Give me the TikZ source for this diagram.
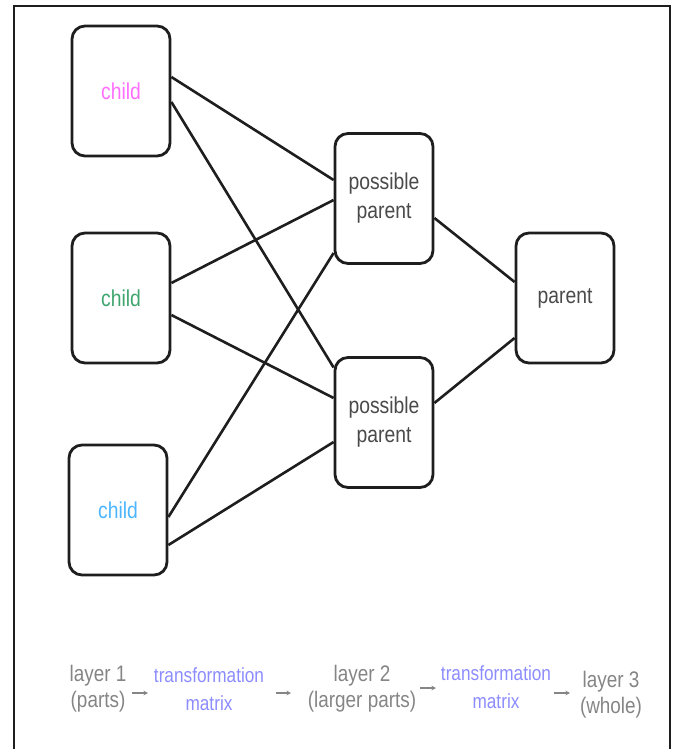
\documentclass[tikz,border=0pt]{standalone}
\usepackage{fontspec}
\setmainfont{Liberation Sans}[FakeStretch=0.84]
\usetikzlibrary{arrows.meta}

\definecolor{boxline}{HTML}{1E1E1E}
\definecolor{boxtext}{HTML}{4A4A4A}
\definecolor{childpink}{HTML}{FF6EFF}
\definecolor{childgreen}{HTML}{3FA56E}
\definecolor{childblue}{HTML}{4DB6FF}
\definecolor{layergray}{HTML}{858585}
\definecolor{matrixblue}{HTML}{8C8CFF}

\tikzset{
  unitbox/.style={draw=boxline, line width=2.8pt, rounded corners=13pt,
    minimum width=98pt, minimum height=130pt, inner sep=0pt, fill=white,
    align=center, text=boxtext, font=\fontsize{23}{29}\selectfont},
  link/.style={draw=boxline, line width=2.6pt},
  layerlabel/.style={align=center, text=layergray, inner sep=0pt,
    font=\fontsize{22.5}{26}\selectfont},
  matrixlabel/.style={align=center, text=matrixblue, inner sep=0pt,
    font=\fontsize{20.5}{28}\selectfont},
  flow/.style={draw=layergray, line width=1.1pt,
    -{Stealth[length=4.5pt,width=4.5pt]}},
}

\begin{document}
\begin{tikzpicture}[x=1pt,y=-1pt]
  \useasboundingbox (0,0) rectangle (677,749);
  \begin{scope}
    \clip (0,0) rectangle (677,749);
    \draw[line width=1.6pt, draw=boxline] (14,6) rectangle (670,770);
  \end{scope}

  % layer 1: children
  \node[unitbox] (c1) at (121,91)  {\textcolor{childpink}{child}};
  \node[unitbox] (c2) at (121,298) {\textcolor{childgreen}{child}};
  \node[unitbox] (c3) at (118,510) {\textcolor{childblue}{child}};

  % layer 2: possible parents
  \node[unitbox] (p1) at (384,198.5) {possible\\parent};
  \node[unitbox] (p2) at (384,422.5) {possible\\parent};

  % layer 3: parent
  \node[unitbox] (pa) at (565,298) {parent};

  % connections between layers
  \draw[link] ([yshift=14pt]c1.east)   -- ([yshift=18.5pt]p1.west);
  \draw[link] ([yshift=-11pt]c1.east)  -- ([yshift=55pt]p2.west);
  \draw[link] ([yshift=15pt]c2.east)   -- ([yshift=-1.5pt]p1.west);
  \draw[link] ([yshift=-17pt]c2.east)  -- ([yshift=24.5pt]p2.west);
  \draw[link] ([yshift=-7pt]c3.east)   -- ([yshift=-54.5pt]p1.west);
  \draw[link] ([yshift=-35pt]c3.east)  -- ([yshift=-19.5pt]p2.west);
  \draw[link] ([yshift=-19.5pt]p1.east) -- ([yshift=16pt]pa.west);
  \draw[link] ([yshift=19.5pt]p2.east)  -- ([yshift=-40pt]pa.west);

  % legend row
  \node[layerlabel]  (l1) at (98,689)  {layer 1\\(parts)};
  \node[matrixlabel] (t1) at (209,689) {transformation\\matrix};
  \node[layerlabel]  (l2) at (362,689) {layer 2\\(larger parts)};
  \node[matrixlabel] (t2) at (496,687) {transformation\\matrix};
  \node[layerlabel]  (l3) at (611,695) {layer 3\\(whole)};

  \coordinate (a1s) at (132,693); \coordinate (a1e) at (148,693);
  \coordinate (a2s) at (276,693); \coordinate (a2e) at (291,693);
  \coordinate (a3s) at (420,688); \coordinate (a3e) at (436,688);
  \coordinate (a4s) at (554,693); \coordinate (a4e) at (570,693);
  \draw[flow] (a1s) -- (a1e);
  \draw[flow] (a2s) -- (a2e);
  \draw[flow] (a3s) -- (a3e);
  \draw[flow] (a4s) -- (a4e);
\end{tikzpicture}
\end{document}
